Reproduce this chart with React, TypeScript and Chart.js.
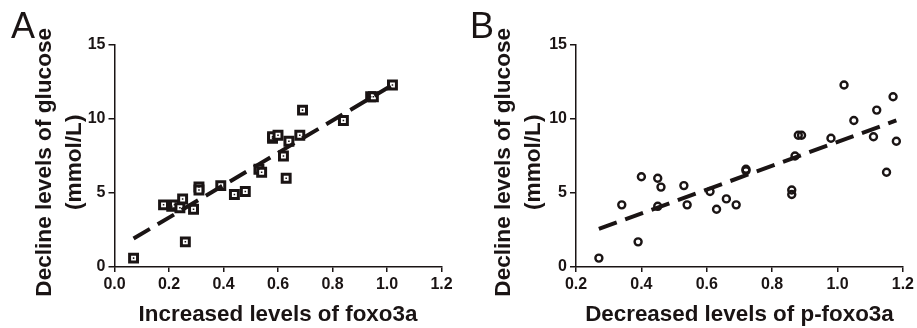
import React, { useEffect, useRef } from "react";
import { Chart, registerables } from "chart.js";

Chart.register(...registerables);

// Panel A: foxo3a vs glucose decline
const foxo3aX = [0.07, 0.18, 0.21, 0.22, 0.24, 0.25, 0.26, 0.29, 0.31, 0.31, 0.39, 0.44, 0.48, 0.53, 0.54, 0.58, 0.58, 0.60, 0.62, 0.63, 0.64, 0.68, 0.69, 0.84, 0.94, 0.95, 1.02];
const glucoseA = [0.6, 4.2, 4.1, 4.2, 4.0, 4.6, 1.7, 3.9, 5.4, 5.2, 5.5, 4.9, 5.1, 6.6, 6.4, 8.7, 8.8, 8.9, 7.5, 6.0, 8.5, 8.9, 10.6, 9.9, 11.5, 11.5, 12.3];
const fitAX = [0.07, 1.02];
const fitAY = [1.92, 12.3];

// Panel B: p-foxo3a vs glucose decline
const pFoxo3aX = [0.27, 0.34, 0.39, 0.40, 0.45, 0.46, 0.45, 0.53, 0.54, 0.61, 0.63, 0.66, 0.69, 0.72, 0.72, 0.86, 0.86, 0.87, 0.88, 0.89, 0.98, 1.02, 1.05, 1.11, 1.12, 1.15, 1.17, 1.18];
const glucoseB = [0.6, 4.2, 1.7, 6.1, 6.0, 5.4, 4.1, 5.5, 4.2, 5.1, 3.9, 4.6, 4.2, 6.6, 6.5, 5.2, 4.9, 7.5, 8.9, 8.9, 8.7, 12.3, 9.9, 8.8, 10.6, 6.4, 11.5, 8.5];
const fitBX = [0.27, 1.18];
const fitBY = [2.57, 9.9];

const yTitle = ["Decline levels of glucose  ", "(mmol/L)  "];
const xTitleA = "Increased levels of foxo3a";
const xTitleB = "Decreased levels of p-foxo3a";
const yMin = 0, yMax = 15, yStep = 5;
const xRangeA = [0, 1.2];
const xRangeB = [0.2, 1.2];
const xStep = 0.2;

const FONT = "'Liberation Sans', Arial, Helvetica, sans-serif";
const INK = "#1a1414";

const pts = (xs: number[], ys: number[]) => xs.map((x, i) => ({ x, y: ys[i] }));

function makeConfig(opts: {
  xs: number[]; ys: number[]; fx: number[]; fy: number[];
  xRange: number[]; xTitle: string; yWidth: number; rightPad: number; squares: boolean;
}) {
  const datasets: any[] = [
    {
      type: "line",
      data: pts(opts.fx, opts.fy),
      borderColor: INK,
      borderWidth: 4,
      borderDash: [19, 9],
      borderCapStyle: "butt",
      pointRadius: 0,
      fill: false,
    },
  ];
  if (opts.squares) {
    datasets.push({
      type: "scatter",
      data: pts(opts.xs, opts.ys),
      pointStyle: "rect",
      pointRadius: 1.1,
      backgroundColor: INK,
      borderWidth: 0,
    });
    datasets.push({
      type: "scatter",
      data: pts(opts.xs, opts.ys),
      pointStyle: "rect",
      pointRadius: 5.6,
      backgroundColor: "#ffffff",
      borderColor: INK,
      borderWidth: 3,
    });
  } else {
    datasets.push({
      type: "scatter",
      data: pts(opts.xs, opts.ys),
      pointStyle: "circle",
      pointRadius: 3.5,
      backgroundColor: "rgba(255,255,255,0)",
      borderColor: INK,
      borderWidth: 2.4,
    });
  }
  return {
    type: "scatter",
    data: { datasets },
    options: {
      animation: false,
      responsive: false,
      maintainAspectRatio: false,
      layout: { padding: { left: 0, right: opts.rightPad, top: 45, bottom: 0 } },
      plugins: { legend: { display: false }, tooltip: { enabled: false }, title: { display: false } },
      scales: {
        x: {
          type: "linear",
          min: opts.xRange[0],
          max: opts.xRange[1],
          afterFit: (s: any) => { s.height = 61; },
          afterBuildTicks: (s: any) => {
            const t = [];
            for (let v = opts.xRange[0]; v <= opts.xRange[1] + 1e-9; v += xStep) t.push({ value: Math.round(v * 10) / 10 });
            s.ticks = t;
          },
          ticks: {
            color: INK,
            font: { family: FONT, size: 16, weight: "bold" },
            padding: 3,
            maxRotation: 0,
            autoSkip: false,
            callback: (v: any) => Number(v).toFixed(1),
          },
          grid: { drawOnChartArea: false, drawTicks: true, tickLength: 5, color: INK, lineWidth: 1.5 },
          border: { display: true, color: INK, width: 1.5 },
          title: {
            display: true,
            text: opts.xTitle,
            color: INK,
            font: { family: FONT, size: 22.4, weight: "bold", lineHeight: 1.2 },
            padding: { top: 0, bottom: 0 },
          },
        },
        y: {
          type: "linear",
          min: yMin,
          max: yMax,
          afterFit: (s: any) => { s.width = opts.yWidth; },
          ticks: {
            stepSize: yStep,
            color: INK,
            font: { family: FONT, size: 16, weight: "bold" },
            padding: 3,
          },
          grid: { drawOnChartArea: false, drawTicks: true, tickLength: 6, color: INK, lineWidth: 1.5 },
          border: { display: true, color: INK, width: 1.5 },
          title: {
            display: true,
            text: yTitle,
            color: INK,
            font: { family: FONT, size: 22.6, weight: "bold", lineHeight: 30 / 22.6 },
            padding: { top: 30, bottom: 0 },
          },
        },
      },
    },
  };
}

function Panel(props: { cfg: any; left: number; width: number }) {
  const ref = useRef<HTMLCanvasElement | null>(null);
  useEffect(() => {
    if (!ref.current) return;
    const chart = new Chart(ref.current, props.cfg);
    return () => chart.destroy();
  }, []);
  return (
    <canvas
      ref={ref}
      width={props.width}
      height={328}
      style={{ position: "absolute", left: props.left, top: 0, width: props.width, height: 328 }}
    />
  );
}

export default function App() {
  const cfgA = makeConfig({ xs: foxo3aX, ys: glucoseA, fx: fitAX, fy: fitAY, xRange: xRangeA, xTitle: xTitleA, yWidth: 114.5, rightPad: 17.5, squares: true });
  const cfgB = makeConfig({ xs: pFoxo3aX, ys: glucoseB, fx: fitBX, fy: fitBY, xRange: xRangeB, xTitle: xTitleB, yWidth: 117, rightPad: 14, squares: false });
  const letter: React.CSSProperties = {
    position: "absolute", top: 8, fontFamily: FONT, fontSize: 36, lineHeight: "36px", color: INK, fontWeight: "normal",
  };
  return (
    <div style={{ position: "absolute", left: 0, top: 0, width: 917, height: 328, background: "#fff", overflow: "hidden" }}>
      <Panel cfg={cfgA} left={0} width={459} />
      <Panel cfg={cfgB} left={459} width={458} />
      <div style={{ ...letter, left: 11 }}>A</div>
      <div style={{ ...letter, left: 470 }}>B</div>
    </div>
  );
}
